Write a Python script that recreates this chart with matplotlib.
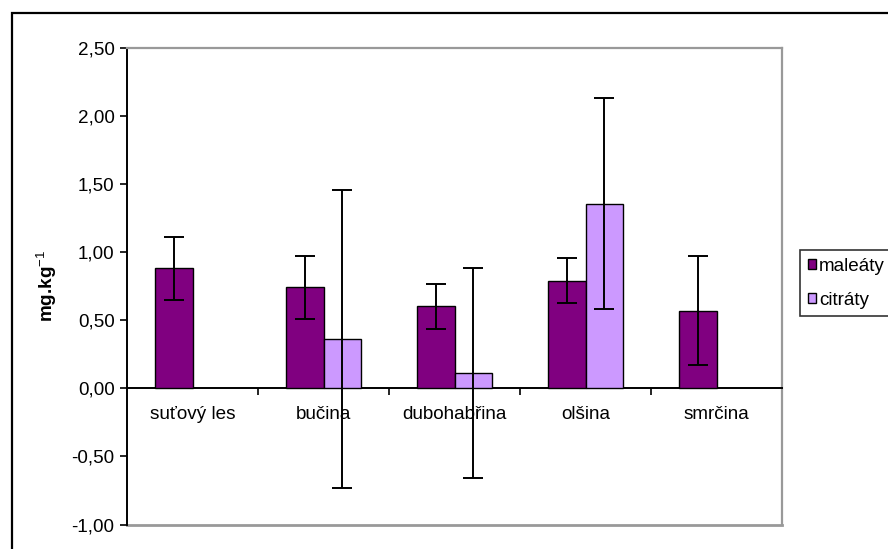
import numpy as np
import matplotlib
matplotlib.use("Agg")
import matplotlib.pyplot as plt
from matplotlib.patches import Rectangle, Patch
from matplotlib.ticker import FixedLocator, FuncFormatter

plt.rcParams['font.family'] = ['Liberation Sans', 'DejaVu Sans']
plt.rcParams['mathtext.fontset'] = 'custom'
plt.rcParams['mathtext.rm'] = 'Liberation Sans'
plt.rcParams['mathtext.bf'] = 'Liberation Sans:bold'

categories = ["suťový les", "bučina", "dubohabřina", "olšina", "smrčina"]
maleaty = [0.88, 0.74, 0.60, 0.79, 0.57]
maleaty_err = [0.23, 0.23, 0.165, 0.165, 0.40]
citraty = [np.nan, 0.36, 0.11, 1.355, np.nan]
citraty_err = [np.nan, 1.095, 0.77, 0.777, np.nan]
series_names = ["maleáty", "citráty"]
y_ticks = [-1.0, -0.5, 0.0, 0.5, 1.0, 1.5, 2.0, 2.5]

W, H = 888, 549
fig = plt.figure(figsize=(W / 100, H / 100), dpi=100)
ax = fig.add_axes([127 / W, 1 - 524.5 / H, (782 - 127) / W, (524.5 - 47.5) / H])

# outer chart frame
fig.add_artist(Rectangle((12 / W, -0.2), 2.0, 1 - 12.5 / H + 0.2,
                         transform=fig.transFigure, fill=False,
                         ec="black", lw=1.6, zorder=0))

x = np.arange(len(categories))
bw = 1 / 3.5
err_kw = dict(ecolor="black", elinewidth=1.4, capsize=7.5, capthick=1.4)
ax.bar(x - bw / 2, maleaty, bw, color="#800080", edgecolor="black", lw=1.0,
       yerr=maleaty_err, error_kw=err_kw, zorder=3)
ax.bar(x + bw / 2, citraty, bw, color="#CC99FF", edgecolor="black", lw=1.0,
       yerr=citraty_err, error_kw=err_kw, zorder=3)

ax.set_xlim(-0.5, len(categories) - 0.5)
ax.set_ylim(-1.0, 2.5)

# frame: black value axis, category axis at zero, grey plot-area border
for s in ["top", "right"]:
    ax.spines[s].set_color("#999999")
    ax.spines[s].set_linewidth(1.6)
ax.spines["left"].set_color("black")
ax.spines["left"].set_linewidth(1.4)
ax.spines["bottom"].set_position(("data", 0))
ax.spines["bottom"].set_color("black")
ax.spines["bottom"].set_linewidth(1.4)
ax.axhline(-1.0, color="#999999", lw=2.0, clip_on=False, zorder=1)

ax.set_yticks(y_ticks)
ax.yaxis.set_major_formatter(FuncFormatter(lambda v, p: f"{v:.2f}".replace(".", ",")))
ax.tick_params(axis="y", direction="out", length=5, width=1.2, pad=4, labelsize=13.6)

ax.set_xticks(x)
ax.set_xticklabels(categories)
ax.xaxis.set_minor_locator(FixedLocator(np.arange(0.5, len(categories) - 0.5, 1)))
ax.tick_params(axis="x", which="major", length=0, pad=13, labelsize=13.6)
ax.tick_params(axis="x", which="minor", direction="out", length=5, width=1.2)

ax.set_ylabel(r"mg.kg$^{\mathrm{-1}}$", fontsize=13.6, fontweight="bold")
ax.yaxis.set_label_coords(-0.104, 0.5)

handles = [Patch(facecolor="#800080", edgecolor="black", lw=1.0),
           Patch(facecolor="#CC99FF", edgecolor="black", lw=1.0)]
leg = fig.legend(handles, series_names, loc="upper left",
                 bbox_to_anchor=(800 / W, 1 - 250 / H), fontsize=13.6,
                 frameon=True, fancybox=False, edgecolor="black",
                 handlelength=0.45, handleheight=0.45, handletextpad=0.15,
                 borderpad=0.4, labelspacing=0.92, borderaxespad=0)
leg.get_frame().set_linewidth(1.2)

fig.savefig("out.png", dpi=100)
